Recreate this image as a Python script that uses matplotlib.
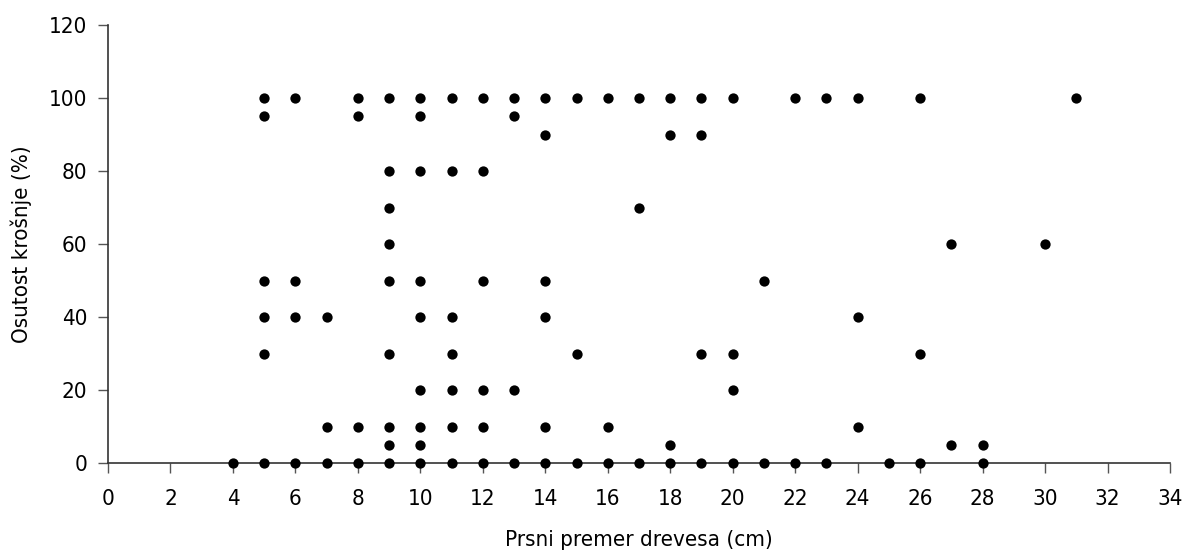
import matplotlib
matplotlib.use('Agg')
import matplotlib.pyplot as plt

# diameter (cm) -> list of crown defoliation values (%)
diam = [4, 5, 6, 7, 8, 9, 10, 11, 12, 13, 14, 15, 16, 17, 18, 19, 20,
        21, 22, 23, 24, 25, 26, 27, 28, 30, 31]
defol = [
    [0],
    [100, 95, 50, 40, 30, 0],
    [100, 50, 40, 0],
    [40, 10, 0],
    [100, 95, 10, 0],
    [100, 80, 70, 60, 50, 30, 10, 5, 0],
    [100, 95, 80, 50, 40, 20, 10, 5, 0],
    [100, 80, 40, 30, 20, 10, 0],
    [100, 80, 50, 20, 10, 0],
    [100, 95, 20, 0],
    [100, 90, 50, 40, 10, 0],
    [100, 30, 0],
    [100, 10, 0],
    [100, 70, 0],
    [100, 90, 5, 0],
    [100, 90, 30, 0],
    [100, 30, 20, 0],
    [50, 0],
    [100, 0],
    [100, 0],
    [100, 40, 10],
    [0],
    [100, 30, 0],
    [60, 5],
    [5, 0],
    [60],
    [100],
]

xs, ys = [], []
for d, vals in zip(diam, defol):
    for v in vals:
        xs.append(d)
        ys.append(v)

font = dict(family='DejaVu Sans', stretch='condensed', size=16)

fig = plt.figure(figsize=(11.91, 5.54), dpi=100)
ax = fig.add_axes([108/1191, (554-463)/554, (1170-108)/1191, (463-25)/554])
ax.scatter(xs, ys, s=55, c='black', zorder=3, clip_on=False, linewidths=0)

ax.set_xlim(0, 34)
ax.set_ylim(0, 120)
ax.set_xticks(range(0, 35, 2))
ax.set_yticks(range(0, 121, 20))
for s in ['top', 'right']:
    ax.spines[s].set_visible(False)
for s in ['left', 'bottom']:
    ax.spines[s].set_color('#333333')
    ax.spines[s].set_linewidth(1.2)
ax.tick_params(direction='out', length=7, width=1, color='#555555')
ax.tick_params(axis='x', pad=12)
ax.tick_params(axis='y', pad=8)
for lab in ax.get_xticklabels() + ax.get_yticklabels():
    lab.set_fontfamily('DejaVu Sans')
    lab.set_fontstretch('condensed')
    lab.set_fontsize(16)
ax.set_xlabel('Prsni premer drevesa (cm)', labelpad=15, **font)
ax.set_ylabel('Osutost krošnje (%)', labelpad=12, **font)

fig.savefig('out.png', dpi=100)
